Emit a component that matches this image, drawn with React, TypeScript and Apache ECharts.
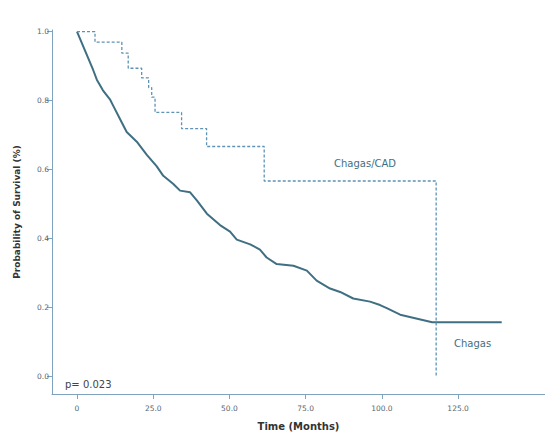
import React, { useEffect, useRef } from "react";
import * as echarts from "echarts";

const xTicks = [0, 25, 50, 75, 100, 125];
const yTicks = [0, 0.2, 0.4, 0.6, 0.8, 1.0];

const chagasMonths = [0, 2.6, 5.3, 6.5, 8.5, 10.8, 11.9, 14.1, 16.3, 19.6, 22.9, 26.1, 28.3, 31.6, 33.8, 37.1, 39.3, 42.6, 46.9, 50.2, 52.4, 56.8, 60.0, 62.2, 65.5, 71.0, 75.4, 78.6, 83.0, 86.3, 90.6, 96.1, 99.4, 101.6, 106.0, 116.5, 139.3];
const chagasSurv = [1.0, 0.946, 0.889, 0.861, 0.83, 0.804, 0.785, 0.747, 0.709, 0.681, 0.643, 0.61, 0.582, 0.558, 0.539, 0.534, 0.511, 0.472, 0.439, 0.42, 0.397, 0.383, 0.368, 0.345, 0.326, 0.321, 0.307, 0.278, 0.255, 0.245, 0.226, 0.217, 0.207, 0.198, 0.179, 0.157, 0.157];

const cadMonths = [0, 5.9, 14.7, 16.8, 21.2, 23.5, 24.5, 25.6, 34.3, 42.5, 61.4, 117.8];
const cadSurv = [1.0, 0.97, 0.938, 0.894, 0.866, 0.838, 0.81, 0.766, 0.719, 0.667, 0.567, 0.0];

const FONT = "DejaVu Sans, Verdana, sans-serif";
const AXIS_COLOR = "#7fa3bd";

export default function App() {
  const ref = useRef<HTMLDivElement>(null);
  useEffect(() => {
    if (!ref.current) return;
    const chart = echarts.init(ref.current, undefined, { renderer: "svg" });
    chart.setOption({
      animation: false,
      backgroundColor: "#ffffff",
      grid: { left: 52, top: 30, right: 0, bottom: 35, containLabel: false },
      xAxis: {
        type: "value",
        min: -8.2,
        max: 153.5,
        splitLine: { show: false },
        axisLine: { show: true, onZero: false, lineStyle: { color: AXIS_COLOR, width: 1 } },
        axisTick: { show: true, customValues: xTicks, length: 5, lineStyle: { color: AXIS_COLOR } },
        axisLabel: {
          customValues: xTicks,
          formatter: (v: number) => (v === 0 ? "0" : v.toFixed(1)),
          fontSize: 7.5,
          color: "#5a6670",
          fontFamily: FONT,
          margin: 10,
        },
        name: "Time (Months)",
        nameLocation: "middle",
        nameGap: 27,
        nameTextStyle: { fontSize: 10, fontWeight: "bold", color: "#333", fontFamily: FONT },
      },
      yAxis: {
        type: "value",
        min: -0.051,
        max: 1.005,
        splitLine: { show: false },
        axisLine: { show: true, onZero: false, lineStyle: { color: AXIS_COLOR, width: 1 } },
        axisTick: { show: true, customValues: yTicks, length: 5, lineStyle: { color: AXIS_COLOR } },
        axisLabel: {
          customValues: yTicks,
          formatter: (v: number) => v.toFixed(1),
          fontSize: 7.5,
          color: "#5a6670",
          fontFamily: FONT,
          margin: 3,
        },
        name: "Probability of Survival (%)",
        nameLocation: "middle",
        nameGap: 31,
        nameRotate: 90,
        nameTextStyle: { fontSize: 9, fontWeight: "bold", color: "#333", fontFamily: FONT },
      },
      series: [
        {
          name: "Chagas",
          type: "line",
          symbol: "none",
          data: chagasMonths.map((m, i) => [m, chagasSurv[i]]),
          lineStyle: { color: "#3f6f82", width: 2 },
        },
        {
          name: "Chagas/CAD",
          type: "line",
          step: "end",
          symbol: "none",
          data: cadMonths.map((m, i) => [m, cadSurv[i]]),
          lineStyle: { color: "#5d93b5", width: 1.3, type: [3, 2] },
        },
      ],
      graphic: [
        { type: "text", x: 65, y: 384, style: { text: "p= 0.023", fontSize: 10, fill: "#444", fontFamily: FONT, align: "left", verticalAlign: "middle" } },
        { type: "text", x: 334, y: 163, style: { text: "Chagas/CAD", fontSize: 10, fill: "#3f6f82", fontFamily: FONT, align: "left", verticalAlign: "middle" } },
        { type: "text", x: 454, y: 343, style: { text: "Chagas", fontSize: 10, fill: "#3f6f82", fontFamily: FONT, align: "left", verticalAlign: "middle" } },
      ],
    });
    return () => chart.dispose();
  }, []);
  return <div ref={ref} style={{ position: "fixed", left: 0, top: 0, width: 545, height: 436 }} />;
}
